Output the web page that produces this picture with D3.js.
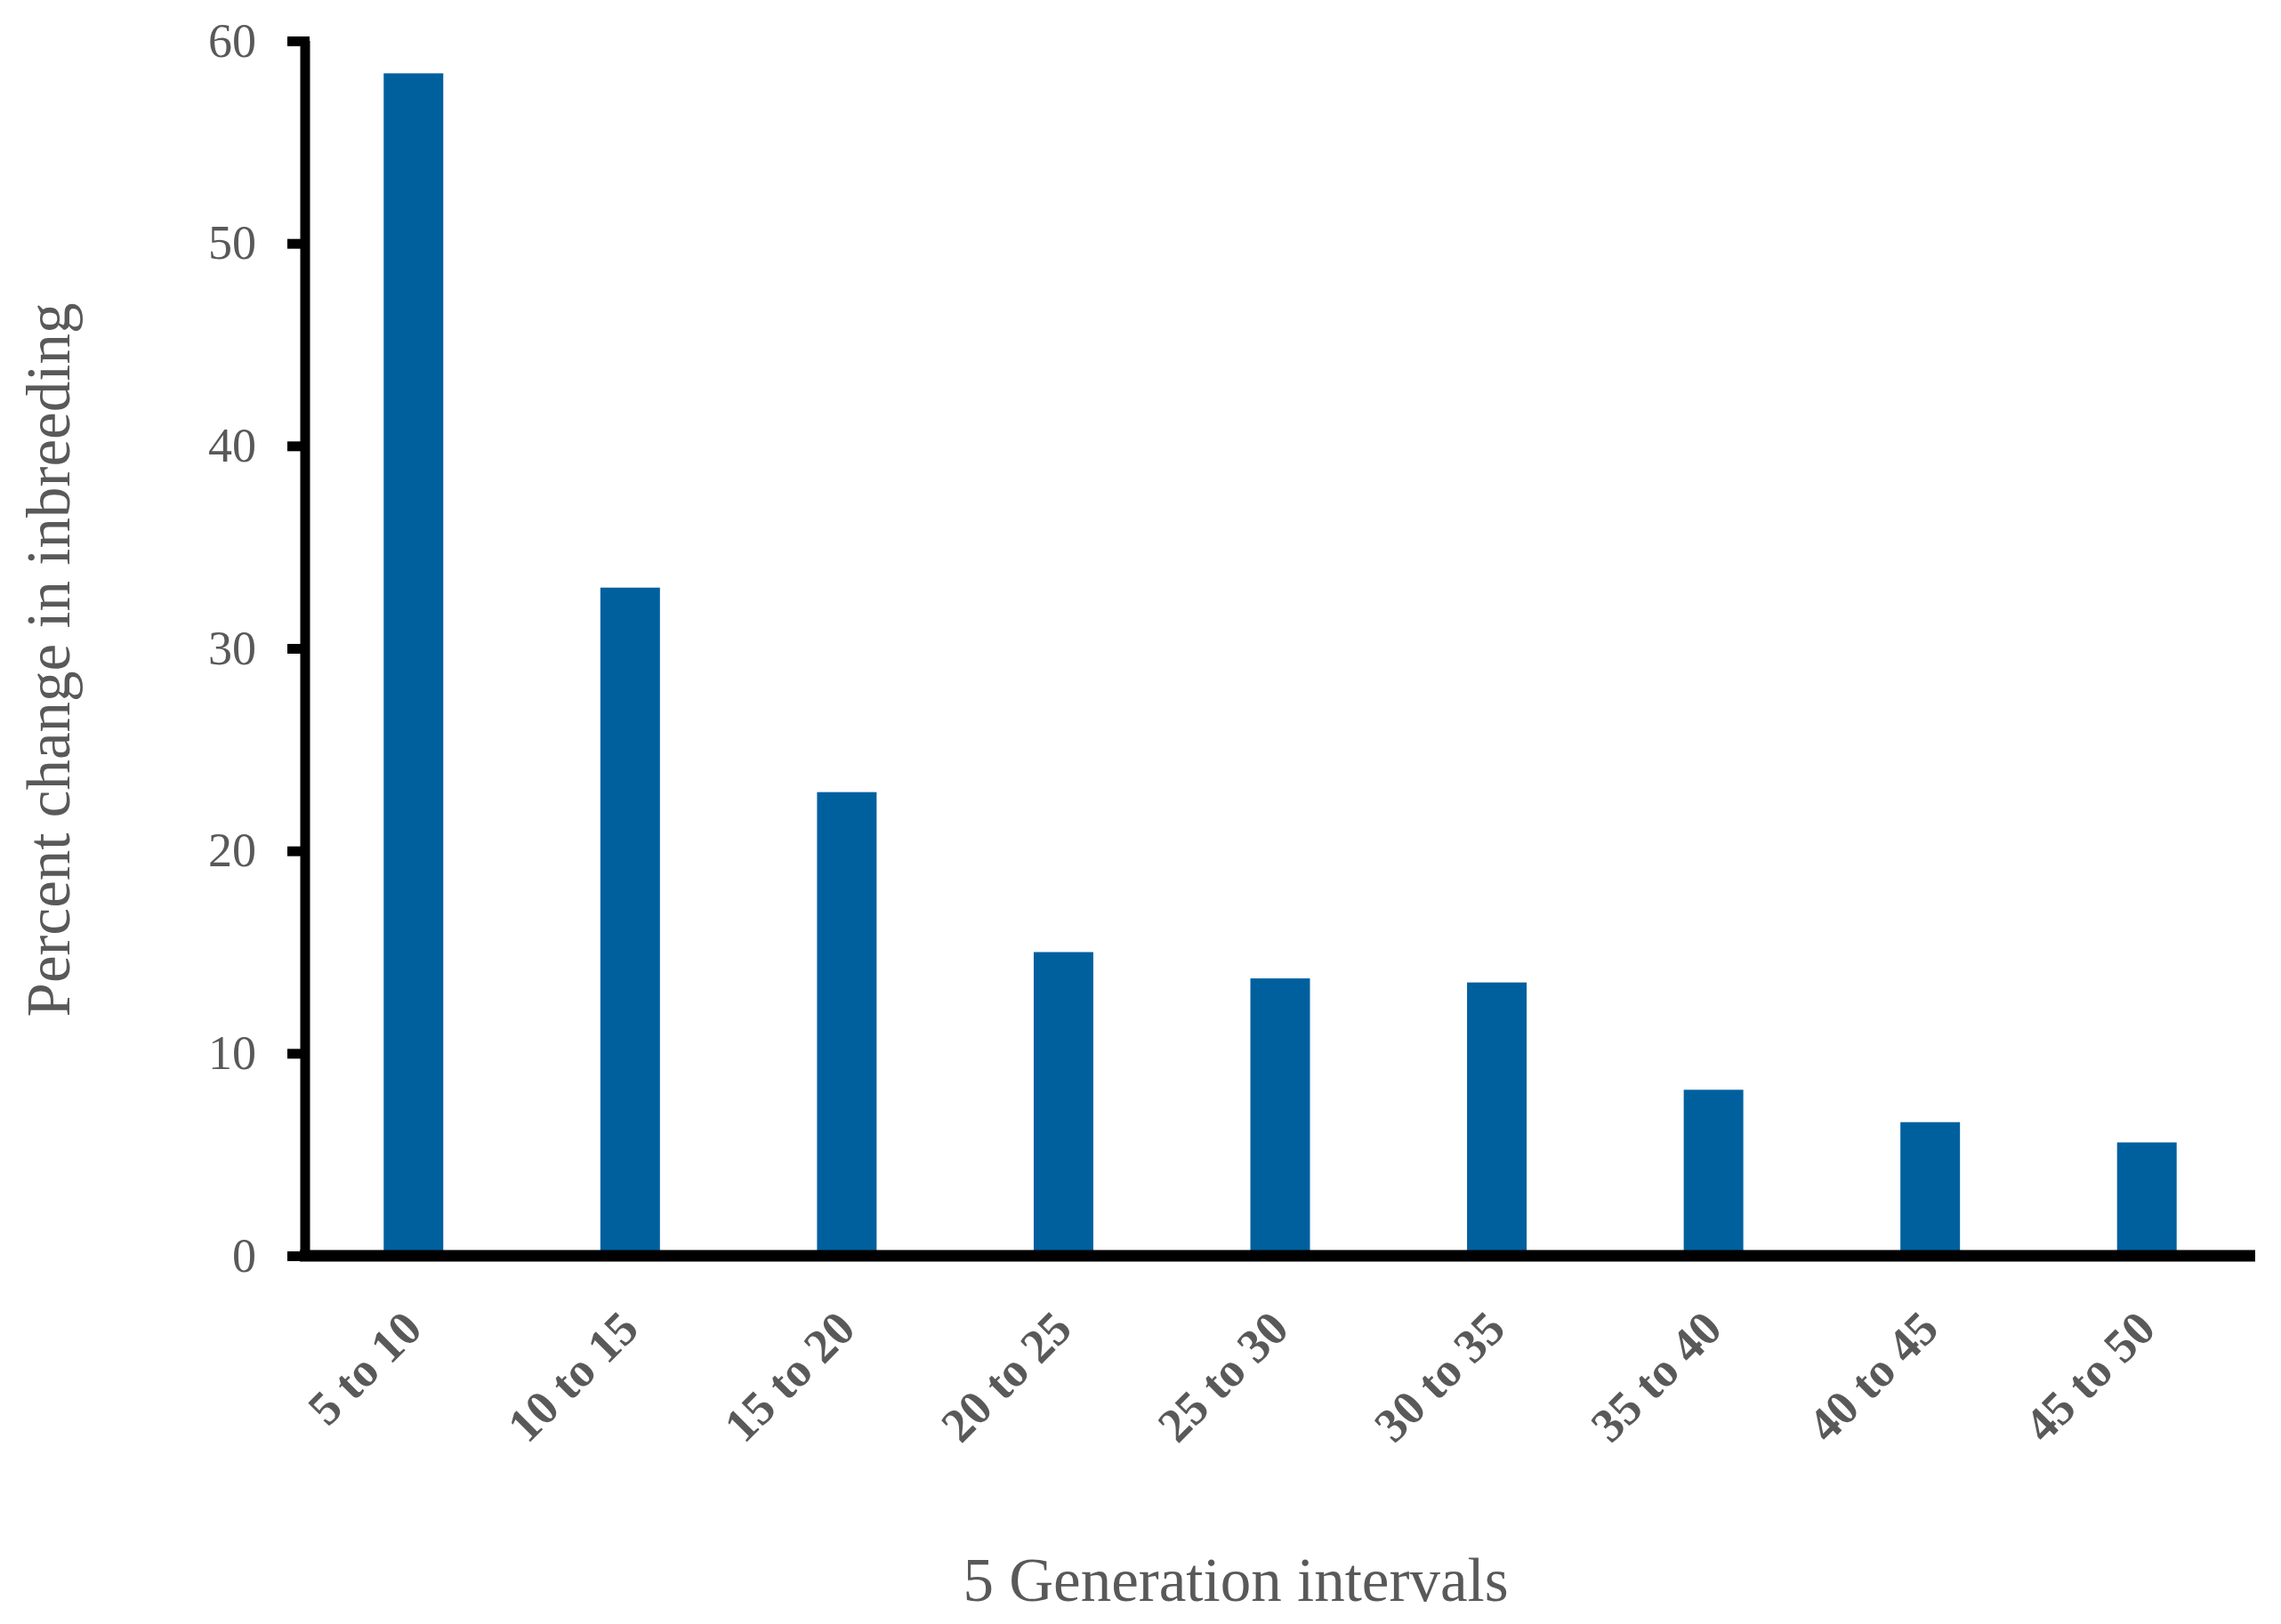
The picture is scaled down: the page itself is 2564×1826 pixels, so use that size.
<!DOCTYPE html>
<html>
<head>
<meta charset="utf-8">
<script src="https://cdn.jsdelivr.net/npm/d3@7"></script>
<style>
  html, body { margin: 0; padding: 0; background: #ffffff; }
  svg { display: block; }
</style>
</head>
<body>
<svg id="chart" width="2564" height="1826"></svg>
<script>
// ---- data ----
const categories = ["5 to 10", "10 to 15", "15 to 20", "20 to 25", "25 to 30", "30 to 35", "35 to 40", "40 to 45", "45 to 50"];
const values = [58.4, 33.0, 22.9, 15.0, 13.7, 13.5, 8.2, 6.6, 5.6];
const yTicks = [0, 10, 20, 30, 40, 50, 60];
const yTitle = "Percent change in inbreeding";
const xTitle = "5 Generation intervals";

// ---- layout ----
const W = 2564, H = 1826;
const x0 = 343, x1 = 2535, yBase = 1412, yTop = 46;
const barColor = "#00609e";
const textColor = "#595959";
const fontFamily = "'Liberation Serif', 'Times New Roman', serif";

const svg = d3.select("#chart");

const x = d3.scaleBand()
  .domain(categories)
  .range([x0, x1])
  .paddingInner(0.725)
  .paddingOuter(0.3625);

const y = d3.scaleLinear()
  .domain([0, 60])
  .range([yBase, yTop]);

// bars
svg.append("g")
  .selectAll("rect")
  .data(values)
  .join("rect")
  .attr("x", (d, i) => x(categories[i]))
  .attr("y", d => y(d))
  .attr("width", x.bandwidth())
  .attr("height", d => y(0) - y(d))
  .attr("fill", barColor);

// x axis
const gx = svg.append("g")
  .attr("transform", `translate(0,${yBase})`)
  .call(d3.axisBottom(x).tickSize(0).tickSizeOuter(0));
gx.select(".domain")
  .attr("stroke", "#000")
  .attr("stroke-width", 13)
  .attr("d", `M${x0 - 6},0H${x1}`);
gx.selectAll(".tick text")
  .attr("fill", textColor)
  .attr("font-family", fontFamily)
  .attr("font-weight", "bold")
  .attr("font-size", 54)
  .attr("text-anchor", "end")
  .attr("x", 0)
  .attr("y", 0)
  .attr("dy", 0)
  .attr("transform", "translate(12,85) rotate(-45)");

// y axis
const gy = svg.append("g")
  .attr("transform", `translate(${x0},0)`)
  .call(d3.axisLeft(y).tickValues(yTicks).tickSize(20).tickPadding(35).tickSizeOuter(0));
gy.select(".domain")
  .attr("stroke", "#000")
  .attr("stroke-width", 11)
  .attr("d", `M0,${yTop}V${yBase}`);
gy.selectAll(".tick line")
  .attr("stroke", "#000")
  .attr("stroke-width", 11)
  .attr("x1", 5);
gy.selectAll(".tick text")
  .attr("fill", textColor)
  .attr("font-family", fontFamily)
  .attr("font-size", 54);

// titles
svg.append("text")
  .attr("transform", "translate(78,742) rotate(-90)")
  .attr("text-anchor", "middle")
  .attr("fill", textColor)
  .attr("font-family", fontFamily)
  .attr("font-size", 69)
  .text(yTitle);

svg.append("text")
  .attr("x", 1389)
  .attr("y", 1800)
  .attr("text-anchor", "middle")
  .attr("fill", textColor)
  .attr("font-family", fontFamily)
  .attr("font-size", 69)
  .text(xTitle);
</script>
</body>
</html>
